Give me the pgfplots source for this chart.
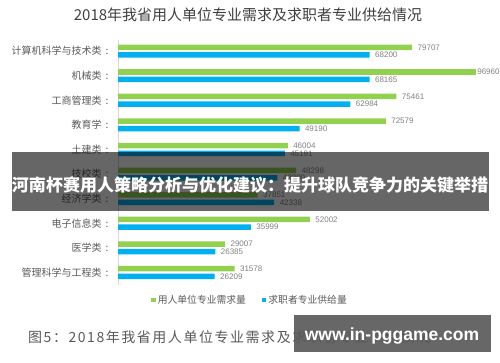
\documentclass[border=0pt]{standalone}
\usepackage{fontspec}
\setmainfont{Liberation Sans}
\newfontfamily\cjk{Noto Sans CJK SC}
\newfontfamily\cjkcap[LetterSpace=11]{Noto Sans CJK SC}
\usepackage{pgfplots}
\pgfplotsset{compat=1.18}
\definecolor{cgreen}{RGB}{146,208,80}
\definecolor{cblue}{RGB}{0,176,240}
\definecolor{lblgray}{RGB}{89,89,89}
\definecolor{numgray}{RGB}{128,128,128}
\definecolor{titlegray}{RGB}{64,64,64}
\definecolor{axgray}{RGB}{217,217,217}
\definecolor{wmgray}{RGB}{90,90,90}
\begin{document}
\begin{tikzpicture}[x=1pt,y=1pt]
\useasboundingbox (0,0) rectangle (500,362);
\node[font=\cjk\fontsize{15}{18}\selectfont, text=titlegray] at (248,347) {2018年我省用人单位专业需求及求职者专业供给情况};
\begin{axis}[
  at={(118pt,322pt)}, anchor=north west,
  scale only axis, width=369pt, height=245pt,
  xmin=0, xmax=100000, ymin=-0.45, ymax=9.51, y dir=reverse,
  axis x line=none, axis y line*=left,
  y axis line style={draw=axgray, line width=0.8pt},
  ytick={0,...,9},
  yticklabels={计算机科学与技术类\hspace{4pt}:, 机械类\hspace{4pt}:, 工商管理类\hspace{4pt}:, 教育学\hspace{4pt}:, 土建类\hspace{4pt}:, 技校类\hspace{4pt}:, 经济学类\hspace{4pt}:, 电子信息类\hspace{4pt}:, 医学类\hspace{4pt}:, 管理科学与工程类\hspace{4pt}:},
  major tick length=0pt,
  yticklabel style={font=\cjk\fontsize{10}{12}\selectfont, text=lblgray, xshift=-6pt},
  xbar, bar width=5.5pt,
  nodes near coords, point meta=x,
  nodes near coords style={font=\fontsize{8}{9}\selectfont, text=numgray, /pgf/number format/1000 sep={}, /pgf/number format/assume math mode=true, anchor=west, xshift=2pt},
  legend style={at={(0.358,-0.061)}, anchor=center, draw=none, fill=none, legend columns=2,
    font=\cjk\fontsize{9.8}{11}\selectfont, text=lblgray,
    /tikz/every even column/.append style={column sep=14pt}},
  legend image code/.code={\fill[#1] (0pt,-2.2pt) rectangle (4.4pt,2.2pt);},
  clip=false,
]
\addplot[fill=cgreen, draw=none, bar shift=3.8pt] coordinates {
 (79707,0) (75461,2) (72579,3) (46004,4) (48298,5) (37851,6) (52002,7) (29007,8) (31578,9)};
\addplot[fill=cblue, draw=none, bar shift=-3.8pt] coordinates {
 (68200,0) (68165,1) (62984,2) (49190,3) (45191,4) (43200,5) (42338,6) (35999,7) (26385,8) (26209,9)};
\addplot[fill=cgreen, draw=none, bar shift=3.8pt, forget plot,
  nodes near coords style={xshift=-4pt}] coordinates {(96960,1)};
\legend{用人单位专业需求量, 求职者专业供给量}
\end{axis}
% banner overlay
\fill[black, opacity=0.6] (12,151) rectangle (489,210);
\node[font=\cjk\bfseries\fontsize{17}{20}\selectfont, text=white] at (250,177) {河南杯赛用人策略分析与优化建议：提升球队竞争力的关键举措};
% caption
\node[anchor=west, font=\cjkcap\fontsize{14}{16}\selectfont, text=lblgray, inner sep=0pt] at (28,25) {图5：2018年我省用人单位专业需求及求职者专业供给情况};
% watermark
\fill[wmgray, opacity=0.92] (294,10) rectangle (491,47);
\node[font=\bfseries\fontsize{17.5}{20}\selectfont, text=white] at (392,26) {www.in-pggame.com};
\end{tikzpicture}
\end{document}
